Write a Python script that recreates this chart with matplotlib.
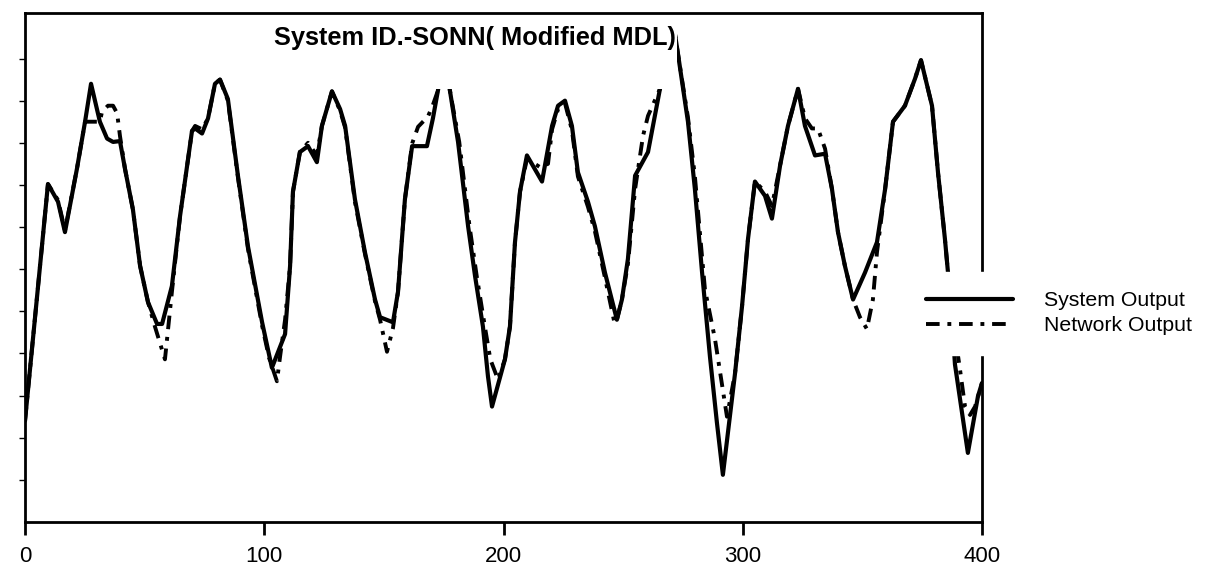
import matplotlib
matplotlib.use("Agg")
import matplotlib.pyplot as plt
from matplotlib.patches import Rectangle

# ---- data ----
sys_x = [0, 9.6, 13.8, 16.7, 21.7, 25.1, 27.6, 31.3, 34.3, 36.8,
         39.7, 41.8, 45.1, 48.1, 51.4, 55.2, 57.3, 61.4, 64.8, 69.8,
         71.1, 74.0, 76.5, 79.4, 81.5, 84.8, 89.0, 93.2, 99.1, 103.2,
         108.7, 110.8, 112.0, 114.9, 118.3, 122.0, 124.1, 128.3, 131.7, 133.8,
         137.9, 142.1, 146.3, 148.4, 153.8, 155.9, 158.8, 161.8, 168.0, 170.5,
         172.6, 175.0, 177.6, 181.0, 185.2, 188.1, 191.4, 193.5, 195.2, 200.6,
         202.7, 204.8, 206.9, 209.8, 216.1, 220.3, 222.8, 225.7, 228.6, 231.1,
         235.3, 238.2, 242.4, 247.4, 249.5, 252.0, 255.0, 260.4, 265.4, 270.8,
         272.9, 277.1, 280.0, 283.0, 286.3, 289.2, 291.7, 296.8, 299.7, 302.2,
         305.1, 309.3, 312.2, 315.6, 318.9, 323.1, 326.0, 330.2, 334.4, 337.3,
         339.8, 342.7, 346.1, 351.1, 356.1, 359.5, 362.8, 367.8, 372.0, 374.5,
         379.1, 381.6, 384.5, 387.2, 388.7, 394.1, 398.3, 400]
sys_y = [1.20, 4.01, 3.80, 3.44, 4.19, 4.75, 5.20, 4.75, 4.55, 4.51,
         4.52, 4.19, 3.71, 3.04, 2.61, 2.35, 2.35, 2.80, 3.63, 4.64,
         4.67, 4.61, 4.79, 5.20, 5.25, 5.02, 4.11, 3.27, 2.37, 1.83,
         2.23, 3.04, 3.92, 4.39, 4.46, 4.27, 4.70, 5.11, 4.90, 4.70,
         3.83, 3.20, 2.64, 2.43, 2.37, 2.73, 3.83, 4.46, 4.46, 4.79,
         5.12, 5.55, 5.12, 4.51, 3.51, 2.92, 2.32, 1.73, 1.37, 1.93,
         2.32, 3.32, 3.92, 4.35, 4.04, 4.70, 4.94, 5.00, 4.70, 4.15,
         3.80, 3.51, 2.96, 2.40, 2.64, 3.12, 4.11, 4.39, 5.14, 5.95,
         5.56, 4.75, 3.95, 2.96, 1.96, 1.18, 0.56, 1.77, 2.56, 3.36,
         4.04, 3.87, 3.60, 4.23, 4.70, 5.14, 4.70, 4.35, 4.37, 3.95,
         3.44, 3.04, 2.64, 2.96, 3.32, 3.95, 4.75, 4.94, 5.26, 5.48,
         4.94, 4.15, 3.36, 2.52, 1.87, 0.82, 1.49, 1.65]

net_x = [0, 9.6, 13.8, 16.7, 21.7, 25.1, 31.3, 32.2, 34.7, 36.8,
         38.5, 39.7, 41.8, 45.1, 48.1, 51.4, 54.3, 58.5, 61.4, 64.8,
         69.8, 71.1, 74.0, 76.5, 79.4, 81.5, 84.8, 89.0, 93.2, 99.1,
         102.0, 105.3, 106.6, 108.7, 110.8, 112.0, 114.9, 118.3, 122.0, 124.1,
         128.3, 131.7, 133.8, 137.9, 142.1, 146.3, 148.4, 151.3, 153.8, 155.9,
         158.8, 161.8, 164.3, 168.4, 170.5, 172.6, 175.0, 177.6, 181.5, 185.8,
         188.8, 192.2, 194.5, 197.7, 200.6, 202.7, 204.8, 206.9, 209.8, 215.3,
         218.6, 220.3, 222.8, 225.7, 228.6, 231.1, 235.3, 238.2, 242.4, 246.4,
         247.4, 249.5, 252.0, 255.0, 258.3, 260.4, 265.4, 270.8, 272.9, 277.1,
         280.0, 284.2, 288.4, 293.4, 296.8, 299.7, 302.2, 305.1, 309.3, 312.2,
         315.6, 318.9, 323.1, 326.0, 328.9, 331.4, 334.4, 337.3, 339.8, 342.7,
         346.1, 349.0, 351.9, 354.4, 356.1, 359.5, 362.8, 367.8, 372.0, 374.5,
         379.1, 381.6, 384.5, 387.2, 390.8, 392.9, 395.0, 397.1, 399.2, 400]
net_y = [1.20, 4.01, 3.82, 3.46, 4.19, 4.75, 4.75, 4.87, 4.94, 4.94,
         4.85, 4.58, 4.19, 3.71, 3.04, 2.61, 2.32, 1.93, 2.73, 3.63,
         4.64, 4.70, 4.66, 4.79, 5.20, 5.25, 5.00, 4.09, 3.24, 2.33,
         1.95, 1.67, 1.96, 2.40, 3.04, 3.92, 4.39, 4.50, 4.35, 4.70,
         5.11, 4.88, 4.68, 3.80, 3.18, 2.62, 2.40, 2.02, 2.30, 2.73,
         3.83, 4.49, 4.69, 4.81, 4.95, 5.12, 5.55, 5.12, 4.51, 3.51,
         2.92, 2.32, 1.93, 1.69, 1.93, 2.32, 3.32, 3.92, 4.31, 4.21,
         4.25, 4.66, 4.90, 4.97, 4.65, 4.10, 3.74, 3.45, 2.90, 2.36,
         2.40, 2.64, 3.06, 3.95, 4.58, 4.82, 5.14, 5.95, 5.56, 4.80,
         4.10, 2.76, 2.17, 1.25, 1.77, 2.56, 3.36, 4.04, 3.92, 3.75,
         4.23, 4.70, 5.14, 4.79, 4.67, 4.67, 4.43, 3.95, 3.44, 3.04,
         2.64, 2.43, 2.29, 2.64, 3.20, 3.95, 4.75, 4.94, 5.26, 5.48,
         4.94, 4.15, 3.36, 2.52, 1.81, 1.37, 1.27, 1.37, 1.57, 1.65]

x_ticks = [0, 100, 200, 300, 400]
x_tick_labels = ["0", "100", "200", "300", "400"]
y_ticks = [0.5, 1.0, 1.5, 2.0, 2.5, 3.0, 3.5, 4.0, 4.5, 5.0, 5.5]
title_text = "System ID.-SONN( Modified MDL)"
labels = ["System Output", "Network Output"]

# ---- figure ----
plt.rcParams['font.family'] = ['Liberation Sans', 'DejaVu Sans']
fig = plt.figure(figsize=(12.09, 5.70), dpi=100)
W, H = 1209, 570
ax = fig.add_axes([25 / W, 1 - 522 / H, (982 - 25) / W, (522 - 13) / H])

l1, = ax.plot(sys_x, sys_y, color='black', lw=3.0, solid_joinstyle='round',
              solid_capstyle='round', label=labels[0], zorder=2)
l2, = ax.plot(net_x, net_y, color='black', lw=2.8,
              linestyle=(0, (3.5, 2.0, 1.0, 2.0)), label=labels[1], zorder=2.1)

ax.set_xlim(0, 400)
ax.set_ylim(0, 6.04)
ax.set_xticks(x_ticks)
ax.set_xticklabels(x_tick_labels, fontsize=16)
ax.set_yticks(y_ticks)
ax.set_yticklabels([])
ax.tick_params(axis='x', direction='out', length=9, width=2, pad=8)
ax.tick_params(axis='y', direction='out', length=4, width=1)
for s in ax.spines.values():
    s.set_linewidth(2.0)

# opaque box behind the title (hides the curve there, as in the scan)
bx0 = (255 - 25) / 957
bx1 = (677 - 25) / 957
by0 = (522 - 89) / 509
ax.add_patch(Rectangle((bx0, by0), bx1 - bx0, 0.997 - by0, transform=ax.transAxes,
                       facecolor='white', edgecolor='none', zorder=3))
ax.text(0.470, 0.951, title_text, transform=ax.transAxes, ha='center', va='center',
        fontsize=18.3, fontweight='bold', zorder=4)

leg = fig.legend([l1, l2], labels, loc='upper left',
                 bbox_to_anchor=(907 / W, 1 - 272 / H), frameon=True,
                 facecolor='white', edgecolor='white', framealpha=1, fancybox=False,
                 fontsize=15.3, handlelength=4.1, handletextpad=1.45, labelspacing=0.3,
                 borderpad=0.9, borderaxespad=0)

fig.savefig("out.png", dpi=100)
